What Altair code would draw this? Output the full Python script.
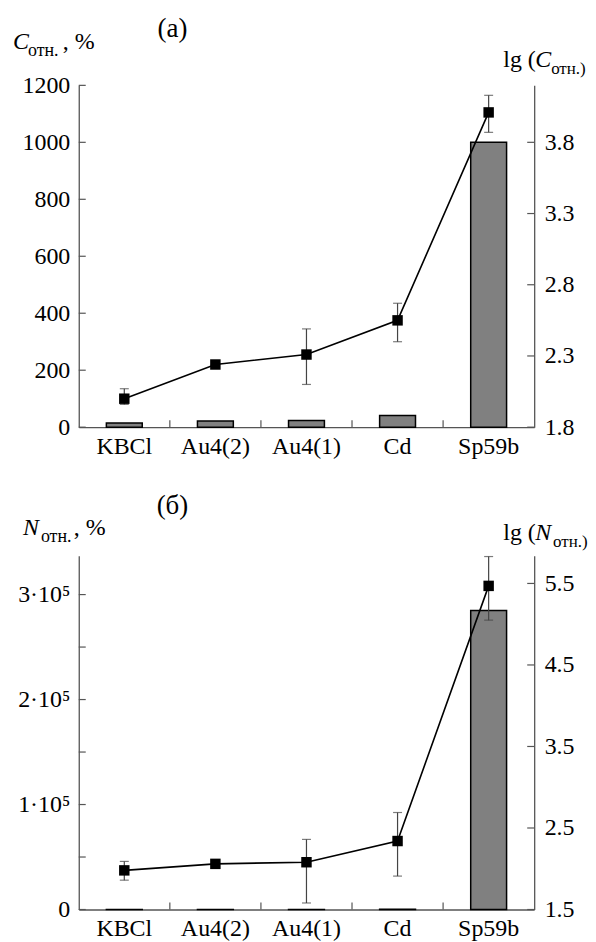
import altair as alt
import pandas as pd

cats = ["KBCl", "Au4(2)", "Au4(1)", "Cd", "Sp59b"]

# panel (a)
c_bar = [15, 22, 23, 41, 1000]
c_lg = [2.00, 2.24, 2.31, 2.55, 4.01]
c_lo = [1.96, 2.24, 2.10, 2.40, 3.87]
c_hi = [2.07, 2.24, 2.49, 2.67, 4.13]
c_left_ticks = [0, 200, 400, 600, 800, 1000, 1200]
c_right_ticks = [1.8, 2.3, 2.8, 3.3, 3.8]

# panel (б)
n_bar = [96, 115, 120, 218, 284800]
n_lg = [1.98, 2.06, 2.08, 2.34, 5.47]
n_lo = [1.86, 2.06, 1.58, 1.91, 5.05]
n_hi = [2.09, 2.06, 2.36, 2.69, 5.83]
n_left_ticks = [0, 50000, 100000, 150000, 200000, 250000, 300000]
n_left_labels = [0, 100000, 200000, 300000]
n_right_ticks = [1.5, 2.5, 3.5, 4.5, 5.5]

FONT = "Liberation Serif"
AX = "#555555"
W = 457


def panel(bar, lg, lo, hi, ldom, lticks, llabels, lexpr, rdom, rticks, H, texts):
    df = pd.DataFrame({"cat": cats, "bar": bar, "lg": lg, "lo": lo, "hi": hi})
    xs = alt.Scale(domain=cats, paddingInner=0, paddingOuter=0)
    common = dict(title=None, labelFont=FONT, labelFontSize=24,
                  labelColor="black")
    xax = alt.Axis(labelPadding=7, labelAngle=0, **common)
    lax = alt.Axis(orient="left", values=llabels, labelPadding=9,
                   labelExpr=lexpr, **common)
    rax = alt.Axis(orient="right", values=rticks, labelPadding=10,
                   labelExpr="format(datum.value, '.1f')", **common)
    ls = alt.Scale(domain=ldom, nice=False, zero=False)
    rs = alt.Scale(domain=rdom, nice=False, zero=False)
    X = alt.X("cat:N", scale=xs, axis=xax, sort=cats)

    bars = alt.Chart(df).mark_bar(size=36, color="#808080", stroke="black",
                                  strokeWidth=1.5).encode(
        x=X, y=alt.Y("bar:Q", scale=ls, axis=lax))
    ltick_df = pd.DataFrame({"bar": lticks})
    lt = alt.Chart(ltick_df).mark_rule(color=AX, strokeWidth=1.2).encode(
        y=alt.Y("bar:Q", scale=ls, axis=lax), x=alt.value(0), x2=alt.value(7))
    left = alt.layer(bars, lt)

    err = alt.Chart(df).mark_rule(color="#444444", strokeWidth=1.2).encode(
        x=X, y=alt.Y("lo:Q", scale=rs, axis=rax), y2="hi:Q")
    cap_lo = alt.Chart(df).mark_tick(color="#444444", size=9, thickness=1.2,
                                     orient="horizontal").encode(
        x=X, y=alt.Y("lo:Q", scale=rs, axis=rax))
    cap_hi = alt.Chart(df).mark_tick(color="#444444", size=9, thickness=1.2,
                                     orient="horizontal").encode(
        x=X, y=alt.Y("hi:Q", scale=rs, axis=rax))
    line = alt.Chart(df).mark_line(color="black", strokeWidth=1.6).encode(
        x=X, y=alt.Y("lg:Q", scale=rs, axis=rax))
    pts = alt.Chart(df).mark_point(shape="square", filled=True, size=110,
                                   color="black", opacity=1).encode(
        x=X, y=alt.Y("lg:Q", scale=rs, axis=rax))
    rtick_df = pd.DataFrame({"lg": rticks})
    rt = alt.Chart(rtick_df).mark_rule(color=AX, strokeWidth=1.2).encode(
        y=alt.Y("lg:Q", scale=rs, axis=rax), x=alt.value(W - 7), x2=alt.value(W))
    right = alt.layer(err, cap_lo, cap_hi, line, pts, rt)

    xt = alt.Chart(df.iloc[1:]).mark_rule(color=AX, strokeWidth=1.2).encode(
        x=alt.X("cat:N", scale=xs, axis=xax, sort=cats, bandPosition=0),
        y=alt.value(H - 7), y2=alt.value(H))

    one = pd.DataFrame({"a": [0]})
    tlayers = []
    for (txt, x, y, size, style, align) in texts:
        tlayers.append(alt.Chart(one).mark_text(
            font=FONT, fontSize=size, fontStyle=style, align=align,
            baseline="alphabetic", color="black").encode(
            x=alt.value(x), y=alt.value(y), text=alt.value(txt)))

    return alt.layer(left, right, xt, *tlayers).resolve_scale(
        y="independent").properties(width=W, height=H)


top_texts = [
    ("(a)", 94, -49, 27, "normal", "center"),
    ("C", -66, -36, 24, "italic", "left"),
    ("отн.", -51, -29, 18, "normal", "left"),
    (", %", -16, -36, 24, "normal", "left"),
    ("lg (", 426, -18, 24, "normal", "left"),
    ("C", 458, -18, 24, "italic", "left"),
    ("отн.)", 474, -11, 17, "normal", "left"),
]
bot_texts = [
    ("(б)", 94, -42, 27, "normal", "center"),
    ("N", -56, -21, 24, "italic", "left"),
    ("отн.", -38, -14, 18, "normal", "left"),
    (", %", -5, -21, 24, "normal", "left"),
    ("lg (", 426, -16, 24, "normal", "left"),
    ("N", 458, -16, 24, "italic", "left"),
    ("отн.)", 476, -9, 17, "normal", "left"),
]

top = panel(c_bar, c_lg, c_lo, c_hi, [0, 1200], c_left_ticks, c_left_ticks,
            "format(datum.value, 'd')",
            [1.8, 4.2], c_right_ticks, 343, top_texts)
bot = panel(n_bar, n_lg, n_lo, n_hi, [0, 337000], n_left_ticks, n_left_labels,
            "datum.value == 0 ? '0' : (datum.value / 100000) + '·10⁵'",
            [1.5, 5.84], n_right_ticks, 355, bot_texts)

chart = alt.vconcat(top, bot, spacing=34).properties(
    padding={"left": 5, "top": 5, "right": 0, "bottom": 5}
).configure(
    font=FONT,
    style={"guide-label": {"font": FONT, "fontSize": 24, "fill": "black"}},
).configure_view(stroke=None).configure_axis(
    labelFont=FONT, labelFontSize=24, labelColor="black", ticks=False,
    grid=False, domainColor=AX, domainWidth=1.3, titleFont=FONT
)

chart.save("out.html", embed_options={"renderer": "svg", "actions": False})
